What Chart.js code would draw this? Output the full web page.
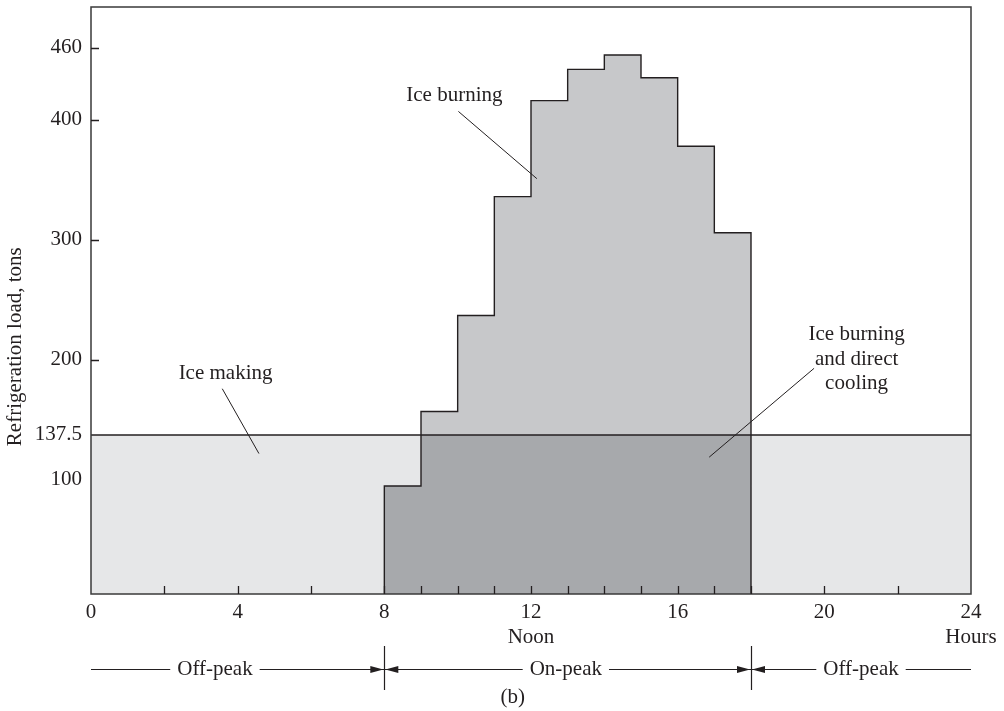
<!DOCTYPE html>
<html>
<head>
<meta charset="utf-8">
<title>Refrigeration load</title>
<script src="https://cdn.jsdelivr.net/npm/chart.js@4.4.0/dist/chart.umd.min.js"></script>
<style>
    html, body { margin: 0; padding: 0; background: #fff; }
    .chart-box { width: 1004px; height: 711px; position: relative; }
</style>
</head>
<body>
<div class="chart-box"><canvas id="loadChart"></canvas></div>
<script>
// hourly load in the on-peak period (start of hour -> tons)
const peakHours = [8, 9, 10, 11, 12, 13, 14, 15, 16, 17];
const peakLoads = [95, 157, 237, 336, 416, 442, 454, 435, 378, 306];
const peakEnd = 18;

// constant chiller output (ice making / direct cooling)
const iceMakingLoad = 137.5;
const dayStart = 0;
const dayEnd = 24;

// axes
const yMin = 5;
const yMax = 494;
const yTickValues = [100, 137.5, 200, 300, 400, 460];
const yTickMarks = [200, 300, 400, 460];
const xTickValues = [0, 4, 8, 12, 16, 20, 24];
const xTickLabels = ['0', '4', '8', ['12', 'Noon'], '16', '20', ['24', 'Hours']];
const xTickMarks = [2, 4, 6, 8, 9, 10, 11, 12, 13, 14, 15, 16, 17, 18, 20, 22];
const yTitle = 'Refrigeration load, tons';
const yTitleAt = 211;

// callouts: text lines, text centre and leader line in (hours, tons)
const callouts = [
    { lines: ['Ice burning'], at: [9.91, 420], from: [10.02, 407], to: [12.16, 351] },
    { lines: ['Ice making'], at: [3.67, 189], from: [3.58, 176], to: [4.58, 122] },
    { lines: ['Ice burning', 'and direct', 'cooling'], at: [20.88, 221], from: [19.72, 193], to: [16.86, 119] }
];

// tariff periods drawn under the axis
const periods = [
    { label: 'Off-peak', from: 0, to: 8, textAt: 3.38 },
    { label: 'On-peak', from: 8, to: 18, textAt: 12.95 },
    { label: 'Off-peak', from: 18, to: 24, textAt: 21.0 }
];
const figureTag = '(b)';
const figureTagAt = 11.5;

const INK = '#231f20';
const FONT = "21px 'Liberation Serif', 'DejaVu Serif', serif";

document.addEventListener('DOMContentLoaded', function() {
    Chart.defaults.font.family = "'Liberation Serif', 'DejaVu Serif', serif";
    Chart.defaults.font.size = 21;
    Chart.defaults.color = INK;

    const ctx = document.getElementById('loadChart').getContext('2d');
    new Chart(ctx, {
        type: 'line',
        data: {
            datasets: [
                {
                    // 137.5 line across the whole day
                    data: flatPoints(iceMakingLoad),
                    borderColor: INK,
                    borderWidth: 1.4,
                    fill: false
                },
                {
                    // outline of the hourly load
                    data: stepPoints(peakLoads),
                    borderColor: INK,
                    borderWidth: 1.4,
                    stepped: true,
                    fill: false
                },
                {
                    // ice burning and direct cooling
                    data: stepPoints(peakLoads.map(v => Math.min(v, iceMakingLoad))),
                    borderColor: 'rgba(0,0,0,0)',
                    borderWidth: 0,
                    stepped: true,
                    backgroundColor: '#a7a9ac',
                    fill: 'start'
                },
                {
                    // ice burning
                    data: stepPoints(peakLoads),
                    borderColor: 'rgba(0,0,0,0)',
                    borderWidth: 0,
                    stepped: true,
                    backgroundColor: '#c7c8ca',
                    fill: 'start'
                },
                {
                    // ice making
                    data: flatPoints(iceMakingLoad),
                    borderColor: 'rgba(0,0,0,0)',
                    borderWidth: 0,
                    backgroundColor: '#e6e7e8',
                    fill: 'start'
                }
            ]
        },
        options: {
            responsive: true,
            maintainAspectRatio: false,
            animation: false,
            layout: {
                padding: { top: 7, right: 33, left: 0, bottom: 0 }
            },
            elements: {
                point: { radius: 0, hoverRadius: 0 },
                line: { tension: 0 }
            },
            plugins: {
                legend: { display: false },
                tooltip: { enabled: false }
            },
            scales: {
                x: {
                    type: 'linear',
                    min: dayStart,
                    max: dayEnd,
                    grid: { display: false, drawTicks: false },
                    border: { display: false },
                    afterBuildTicks: function(scale) {
                        scale.ticks = xTickValues.map(v => ({ value: v }));
                    },
                    afterFit: function(scale) {
                        scale.height = 117;
                        scale.paddingLeft = 0;
                        scale.paddingRight = 0;
                    },
                    ticks: {
                        padding: 6,
                        maxRotation: 0,
                        autoSkip: false,
                        callback: function(value, index) {
                            return xTickLabels[index];
                        }
                    }
                },
                y: {
                    type: 'linear',
                    min: yMin,
                    max: yMax,
                    grid: { display: false, drawTicks: false },
                    border: { display: false },
                    afterBuildTicks: function(scale) {
                        scale.ticks = yTickValues.map(v => ({ value: v }));
                    },
                    afterFit: function(scale) {
                        // fixed axis width, no extra room for half labels
                        scale.width = 91;
                        scale.paddingTop = 0;
                        scale.paddingBottom = 0;
                    },
                    ticks: {
                        padding: 9,
                        autoSkip: false,
                        callback: function(value) {
                            return String(value);
                        }
                    }
                }
            }
        },
        plugins: [figureExtras]
    });
});

function flatPoints(value) {
    return [{ x: dayStart, y: value }, { x: dayEnd, y: value }];
}

// step outline: up from the axis at 8, one level per hour, down at 18
function stepPoints(values) {
    const pts = [{ x: peakHours[0], y: yMin }];
    peakHours.forEach((h, i) => pts.push({ x: h, y: values[i] }));
    pts.push({ x: peakEnd, y: yMin });
    return pts;
}

function drawArrowHead(ctx, tipX, y, dir) {
    ctx.beginPath();
    ctx.moveTo(tipX, y);
    ctx.lineTo(tipX - dir * 13, y - 3.5);
    ctx.lineTo(tipX - dir * 13, y + 3.5);
    ctx.closePath();
    ctx.fill();
}

const figureExtras = {
    id: 'figureExtras',
    afterDatasetsDraw(chart) {
        const { ctx, chartArea: area, scales: { x, y } } = chart;
        ctx.save();

        // frame
        ctx.strokeStyle = '#3a3a3a';
        ctx.lineWidth = 1.5;
        ctx.strokeRect(area.left, area.top, area.right - area.left, area.bottom - area.top);

        // inward tick marks
        ctx.strokeStyle = INK;
        ctx.lineWidth = 1.3;
        ctx.beginPath();
        yTickMarks.forEach(v => {
            const py = Math.round(y.getPixelForValue(v)) + 0.5;
            ctx.moveTo(area.left, py);
            ctx.lineTo(area.left + 8, py);
        });
        xTickMarks.forEach(v => {
            const px = Math.round(x.getPixelForValue(v)) + 0.5;
            ctx.moveTo(px, area.bottom);
            ctx.lineTo(px, area.bottom - 8);
        });
        ctx.stroke();

        // callouts
        ctx.font = FONT;
        ctx.fillStyle = INK;
        ctx.textAlign = 'center';
        ctx.textBaseline = 'middle';
        ctx.lineWidth = 1;
        callouts.forEach(c => {
            const cx = x.getPixelForValue(c.at[0]);
            const cy = y.getPixelForValue(c.at[1]);
            c.lines.forEach((line, i) => ctx.fillText(line, cx, cy + i * 24.5));
            ctx.beginPath();
            ctx.moveTo(x.getPixelForValue(c.from[0]), y.getPixelForValue(c.from[1]));
            ctx.lineTo(x.getPixelForValue(c.to[0]), y.getPixelForValue(c.to[1]));
            ctx.stroke();
        });

        // y axis title
        ctx.save();
        ctx.translate(15, y.getPixelForValue(yTitleAt));
        ctx.rotate(-Math.PI / 2);
        ctx.fillText(yTitle, 0, 0);
        ctx.restore();

        ctx.restore();
    },
    afterDraw(chart) {
        const { ctx, chartArea: area, scales: { x } } = chart;
        const lineY = area.bottom + 75.5;
        ctx.save();
        ctx.font = FONT;
        ctx.fillStyle = INK;
        ctx.strokeStyle = INK;
        ctx.lineWidth = 1.2;
        ctx.textAlign = 'center';
        ctx.textBaseline = 'middle';

        periods.forEach(p => {
            const x0 = x.getPixelForValue(p.from);
            const x1 = x.getPixelForValue(p.to);
            const tx = x.getPixelForValue(p.textAt);
            const w = ctx.measureText(p.label).width;
            ctx.fillText(p.label, tx, lineY);
            ctx.beginPath();
            ctx.moveTo(x0, lineY);
            ctx.lineTo(tx - w / 2 - 7, lineY);
            ctx.moveTo(tx + w / 2 + 7, lineY);
            ctx.lineTo(x1, lineY);
            ctx.stroke();
            if (p.from !== dayStart) drawArrowHead(ctx, x0 + 1, lineY, -1);
            if (p.to !== dayEnd) drawArrowHead(ctx, x1 - 1, lineY, 1);
        });

        // boundary markers at the tariff changes
        ctx.beginPath();
        periods.forEach(p => {
            if (p.from === dayStart) return;
            const px = Math.round(x.getPixelForValue(p.from)) + 0.5;
            ctx.moveTo(px, area.bottom + 52);
            ctx.lineTo(px, area.bottom + 96);
        });
        ctx.stroke();

        ctx.fillText(figureTag, x.getPixelForValue(figureTagAt), area.bottom + 103);
        ctx.restore();
    }
};
</script>
</body>
</html>
